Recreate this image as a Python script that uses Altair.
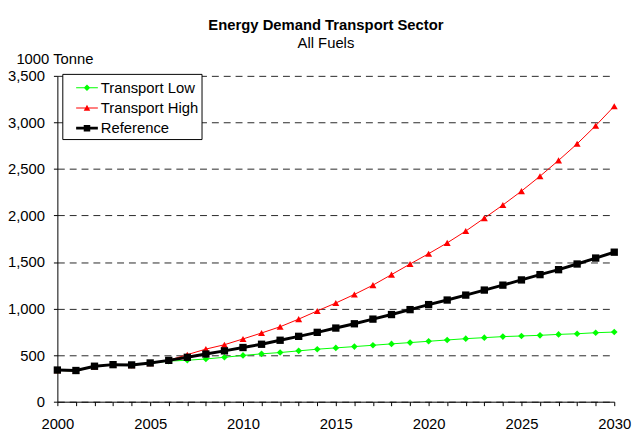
import altair as alt
import pandas as pd

years = list(range(2000, 2031))
transport_low = [337, 330, 380, 398, 392, 413, 436, 445, 459, 477, 497, 514, 528, 546, 564, 578,
                 592, 606, 621, 635, 649, 663, 677, 688, 699, 706, 713, 723, 730, 741, 748]
transport_high = [337, 330, 378, 397, 392, 414, 445, 505, 565, 612, 674, 738, 805, 887, 975, 1060,
                  1152, 1252, 1365, 1479, 1590, 1706, 1833, 1972, 2113, 2262, 2422, 2592, 2770, 2965, 3174]
reference = [340, 335, 381, 398, 395, 416, 444, 477, 512, 546, 582, 617, 660, 702, 745, 791,
             837, 887, 936, 989, 1043, 1092, 1145, 1199, 1252, 1308, 1365, 1418, 1479, 1543, 1606]

series_names = ["Transport Low", "Transport High", "Reference"]
series_values = [transport_low, transport_high, reference]
colors = ["#00ff00", "#ff0000", "#000000"]
shapes = ["diamond", "triangle-up", "square"]
line_widths = [1, 1, 3]
point_sizes = [45, 50, 55]
y_ticks = list(range(0, 3501, 500))

rows = []
for name, vals in zip(series_names, series_values):
    for yr, v in zip(years, vals):
        rows.append({"year": yr, "value": v, "series": name})
df = pd.DataFrame(rows)

FONT = "Liberation Sans"

# legend glyphs: a short line with the series marker on it
legend_paths = [
    "M-1,-0.045H1V0.045H-1Z M0,-0.3L0.3,0L0,0.3L-0.3,0Z",
    "M-1,-0.045H1V0.045H-1Z M0,-0.3L0.3,0.26L-0.3,0.26Z",
    "M-1,-0.13H1V0.13H-1Z M-0.3,-0.3H0.3V0.3H-0.3Z",
]

color_scale = alt.Scale(domain=series_names, range=colors)
shape_scale = alt.Scale(domain=series_names, range=legend_paths)
legend = alt.Legend(
    title=None,
    orient="none",
    legendX=5,
    legendY=-2,
    fillColor="white",
    strokeColor="black",
    padding=3,
    labelFont=FONT,
    labelFontSize=15,
    labelColor="black",
    labelOffset=3,
    symbolSize=484,
    symbolOffset=11,
    symbolStrokeWidth=0,
    symbolOpacity=1,
    rowPadding=1.5,
)

x_enc = alt.X(
    "year:Q",
    scale=alt.Scale(domain=[2000, 2030], nice=False, zero=False),
    axis=alt.Axis(
        values=years,
        format="d",
        labelExpr="datum.value % 5 == 0 ? datum.label : ''",
        tickSize=4,
        labelPadding=11,
        grid=False,
        title=None,
        labelOverlap=False,
        labelFlush=False,
    ),
)
y_enc = alt.Y(
    "value:Q",
    scale=alt.Scale(domain=[0, 3500], nice=False),
    axis=alt.Axis(
        values=y_ticks,
        format=",d",
        title="1000 Tonne",
        titleAngle=0,
        titleAlign="left",
        titleBaseline="alphabetic",
        titleX=-42,
        titleY=-13,
        titleFontWeight="normal",
        titleFontSize=15,
        titleFont=FONT,
        tickSize=4,
        labelPadding=9,
        grid=True,
        gridDash=[7, 5],
        gridColor="#000000",
        gridOpacity=0.85,
    ),
)

base = alt.Chart(df)
layers = []
for name, color, shape, w, s in zip(series_names, colors, shapes, line_widths, point_sizes):
    sub = base.transform_filter(alt.datum.series == name)
    line = sub.mark_line(strokeWidth=w, color=color).encode(x=x_enc, y=y_enc)
    pts = sub.mark_point(shape=shape, filled=True, size=s, opacity=1, color=color).encode(
        x=x_enc, y=y_enc
    )
    layers += [line, pts]

legend_layer = base.transform_filter("false").mark_point(filled=True, opacity=1, size=484).encode(
    x=x_enc,
    y=y_enc,
    color=alt.Color("series:N", scale=color_scale, legend=legend),
    shape=alt.Shape("series:N", scale=shape_scale, legend=legend),
)
layers.append(legend_layer)

chart = alt.layer(*layers).properties(
    width=564,
    height=330,
    autosize="none",
    padding={"left": 50, "top": 66, "right": 20, "bottom": 31},
    title=alt.TitleParams(
        text="Energy Demand Transport Sector",
        subtitle="All Fuels",
        font=FONT,
        subtitleFont=FONT,
        fontSize=15,
        subtitleFontSize=15,
        fontWeight="bold",
        color="black",
        subtitleColor="black",
        anchor="middle",
        dx=-10,
        offset=0,
        subtitlePadding=3,
    ),
).configure_axis(
    domainColor="black",
    tickColor="black",
    labelColor="black",
    titleColor="black",
    labelFont=FONT,
    labelFontSize=15,
).configure_view(stroke=None)

chart.save("out.html", embed_options={"renderer": "svg", "actions": False})
